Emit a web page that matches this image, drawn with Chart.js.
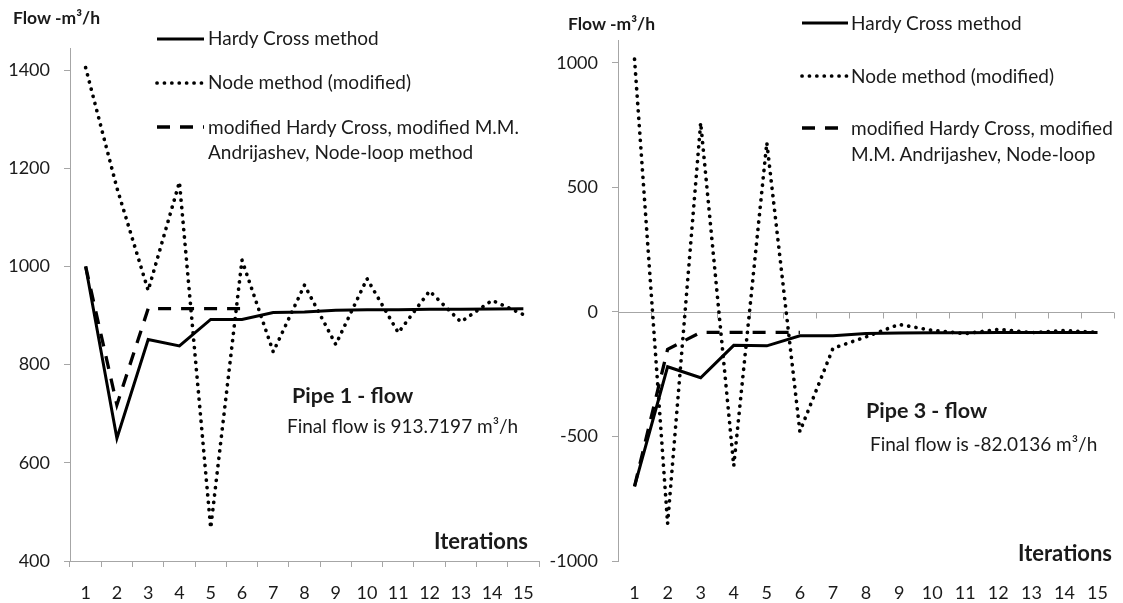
<!DOCTYPE html>
<html>
<head>
<meta charset="utf-8">
<script src="https://cdn.jsdelivr.net/npm/chart.js@4.4.1/dist/chart.umd.min.js"></script>
<style>
body{margin:0;background:#fff;width:1123px;height:603px;overflow:hidden;position:relative;font-family:Lato,sans-serif;color:#1a1a1a}
canvas{position:absolute;top:0}
#pipe1{left:0}
#pipe3{left:530px}
.t{position:absolute;white-space:nowrap;font-size:19px;line-height:22px}
.b{font-weight:bold}
.h{font-size:17.5px;line-height:20px}
.p{font-size:21.5px;line-height:24px}
.i{font-size:22px;line-height:24px}
</style>
</head>
<body>
<canvas id="pipe1" width="560" height="603"></canvas>
<canvas id="pipe3" width="593" height="603"></canvas>

<div class="t b h" style="left:13px;top:8px">Flow -m³/h</div>
<div class="t" style="left:208px;top:27px">Hardy Cross method</div>
<div class="t" style="left:208px;top:71px">Node method (modified)</div>
<div class="t" style="left:208px;top:116px">modified Hardy Cross, modified M.M.</div>
<div class="t" style="left:208px;top:141px">Andrijashev, Node-loop method</div>
<div class="t b p" style="left:292px;top:383px">Pipe 1 - flow</div>
<div class="t" style="left:287px;top:415px">Final flow is 913.7197 m³/h</div>
<div class="t b i" style="left:434px;top:529px">Iterations</div>

<div class="t b h" style="left:568px;top:14px">Flow -m³/h</div>
<div class="t" style="left:851px;top:12px">Hardy Cross method</div>
<div class="t" style="left:851px;top:65px">Node method (modified)</div>
<div class="t" style="left:851px;top:117px">modified Hardy Cross, modified</div>
<div class="t" style="left:851px;top:143px">M.M. Andrijashev, Node-loop</div>
<div class="t b p" style="left:866px;top:398px">Pipe 3 - flow</div>
<div class="t" style="left:870px;top:433px">Final flow is -82.0136 m³/h</div>
<div class="t b i" style="left:1018px;top:541px">Iterations</div>

<script>
const iterations = ['1','2','3','4','5','6','7','8','9','10','11','12','13','14','15'];

// Pipe 1
const hardyCross1 = [1000, 650, 851, 838, 892, 892, 906, 907, 911, 912, 912, 913, 913, 913.5, 913.7];
const nodeMethod1 = [1405, 1160, 951, 1172, 467, 1013, 826, 962, 841, 975, 865, 950, 887, 931, 902];
const modifiedHC1 = [1000, 718, 914, 914, 914, 914];
const yTicks1 = [400, 600, 800, 1000, 1200, 1400];

// Pipe 3
const hardyCross3 = [-700, -220, -264, -134, -136, -96, -96, -87, -84, -83, -83, -82, -82, -82, -82];
const nodeMethod3 = [1015, -850, 760, -618, 680, -480, -146, -100, -50, -74, -87, -70, -83, -75, -82];
const modifiedHC3 = [-700, -150, -82, -82, -82, -82];
const yTicks3 = [-1000, -500, 0, 500, 1000];

const axisGray = '#a6a6a6';
const tickFont = {family: 'Lato', size: 18};

function lineSets(hc, node, mod) {
    return [
        {label: 'Hardy Cross method', data: hc, borderColor: '#000', borderWidth: 3, pointRadius: 0, borderDash: [], borderCapStyle: 'butt'},
        {label: 'Node method (modified)', data: node, borderColor: '#000', borderWidth: 3.7, pointRadius: 0, borderDash: [0.1, 7.3], borderCapStyle: 'round'},
        {label: 'modified Hardy Cross', data: mod, borderColor: '#000', borderWidth: 3.3, pointRadius: 0, borderDash: [13, 10], borderCapStyle: 'butt'}
    ];
}

// little line samples next to the legend texts
const legendSamples = {
    id: 'legendSamples',
    afterDraw(chart, args, opts) {
        const ctx = chart.ctx;
        chart.data.datasets.forEach((ds, i) => {
            ctx.save();
            ctx.strokeStyle = ds.borderColor;
            ctx.lineWidth = ds.borderWidth;
            ctx.setLineDash(ds.borderDash);
            ctx.lineCap = ds.borderCapStyle;
            ctx.beginPath();
            ctx.moveTo(opts.x1, opts.ys[i]);
            ctx.lineTo(opts.x2, opts.ys[i]);
            ctx.stroke();
            ctx.restore();
        });
    }
};

// x axis drawn on the zero line (pipe 3)
const zeroAxis = {
    id: 'zeroAxis',
    beforeDatasetsDraw(chart, args, opts) {
        if (!opts.on) return;
        const {ctx, chartArea: a, scales: {x, y}} = chart;
        const y0 = Math.round(y.getPixelForValue(0)) + 0.5;
        const step = x.getPixelForValue(1) - x.getPixelForValue(0);
        ctx.save();
        ctx.strokeStyle = axisGray;
        ctx.lineWidth = 1;
        ctx.beginPath();
        ctx.moveTo(a.left, y0);
        ctx.lineTo(a.right, y0);
        for (let i = 0; i <= iterations.length; i++) {
            const px = Math.round(x.getPixelForValue(0) - step / 2 + i * step) + 0.5;
            ctx.moveTo(px, y0);
            ctx.lineTo(px, y0 + 6);
        }
        ctx.stroke();
        ctx.restore();
    }
};

function makeChart(id, sets, yMin, yMax, yTicks, yWidth, pad, bottomAxis, legend) {
    return new Chart(document.getElementById(id), {
        type: 'line',
        data: {labels: iterations, datasets: sets},
        plugins: [legendSamples, zeroAxis],
        options: {
            responsive: false,
            animation: false,
            layout: {padding: pad},
            elements: {line: {tension: 0}},
            plugins: {
                legend: {display: false},
                tooltip: {enabled: false},
                legendSamples: legend,
                zeroAxis: {on: !bottomAxis}
            },
            scales: {
                x: {
                    offset: true,
                    afterFit: s => { s.height = 42; },
                    border: {display: bottomAxis, color: axisGray},
                    grid: {display: bottomAxis, offset: true, drawOnChartArea: false, drawTicks: true, tickLength: 6, color: axisGray},
                    ticks: {font: tickFont, color: '#1a1a1a', padding: 15, maxRotation: 0, autoSkip: false}
                },
                y: {
                    min: yMin,
                    max: yMax,
                    afterFit: s => { s.width = yWidth; },
                    afterBuildTicks: s => { s.ticks = yTicks.map(v => ({value: v})); },
                    border: {color: axisGray},
                    grid: {drawOnChartArea: false, drawTicks: true, tickLength: 6, color: axisGray},
                    ticks: {font: tickFont, color: '#1a1a1a', padding: 14, callback: v => String(v)}
                }
            }
        }
    });
}

makeChart('pipe1', lineSets(hardyCross1, nodeMethod1, modifiedHC1), 400, 1445, yTicks1, 70,
    {top: 48, right: 21, left: 0, bottom: 0}, true, {x1: 157, x2: 204, ys: [39, 83, 127]});

makeChart('pipe3', lineSets(hardyCross3, nodeMethod3, modifiedHC3), -1000, 1092, yTicks3, 88,
    {top: 40, right: 1, left: 0, bottom: 0}, false, {x1: 272, x2: 318, ys: [23, 76, 128]});
</script>
</body>
</html>
